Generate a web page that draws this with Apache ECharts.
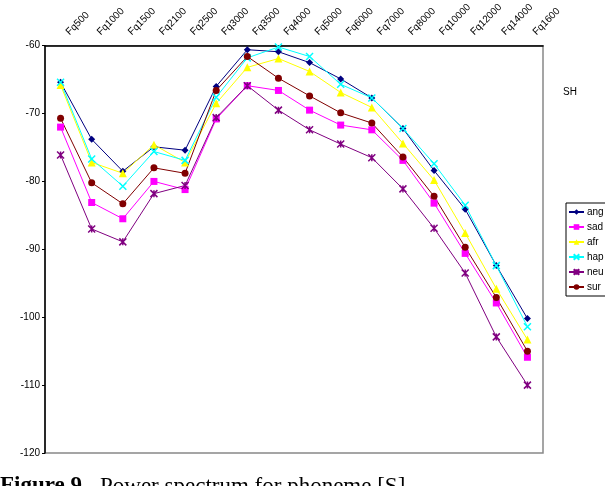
<!DOCTYPE html>
<html><head><meta charset="utf-8">
<script src="https://cdn.jsdelivr.net/npm/echarts@6/dist/echarts.min.js"></script>
<style>html,body{margin:0;padding:0;background:#fff}#c{width:605px;height:486px}</style>
</head><body><div id="c"></div>
<script>
const categories = ['Fq500','Fq1000','Fq1500','Fq2100','Fq2500','Fq3000','Fq3500','Fq4000','Fq5000','Fq6000','Fq7000','Fq8000','Fq10000','Fq12000','Fq14000','Fq1600'];
const ang = [-65.4, -73.8, -78.5, -74.9, -75.4, -66.0, -60.6, -60.9, -62.5, -64.9, -67.7, -72.2, -78.4, -84.1, -92.4, -100.2];
const sad = [-72.0, -83.1, -85.5, -80.0, -81.2, -70.8, -65.9, -66.6, -69.5, -71.7, -72.4, -76.9, -83.2, -90.6, -97.9, -105.9];
const afr = [-65.8, -77.2, -78.8, -74.6, -77.2, -68.5, -63.2, -61.9, -63.8, -66.9, -69.1, -74.4, -79.8, -87.6, -95.8, -103.3];
const hap = [-65.4, -76.7, -80.7, -75.6, -76.9, -67.6, -61.8, -60.2, -61.6, -65.7, -67.7, -72.2, -77.4, -83.5, -92.4, -101.4];
const neu = [-76.1, -87.0, -88.9, -81.8, -80.6, -70.6, -65.9, -69.5, -72.4, -74.5, -76.5, -81.1, -86.9, -93.5, -102.9, -110.0];
const sur = [-70.7, -80.2, -83.3, -78.0, -78.8, -66.6, -61.6, -64.8, -67.4, -69.9, -71.4, -76.4, -82.2, -89.7, -97.1, -105.0];
const seriesNames = ['ang','sad','afr','hap','neu','sur'];
const yTicks = {min: -120, max: -60, interval: 10};

const X_PATH = 'path://M0,0L10,10M10,0L0,10';
const AST_PATH = 'path://M0,0L10,10M10,0L0,10M5,0L5,10';
const styles = {
  ang: {color:'#000080', symbol:'diamond', size:7, bw:0},
  sad: {color:'#FF00FF', symbol:'rect', size:7, bw:0},
  afr: {color:'#FFFF00', symbol:'triangle', size:8, bw:0},
  hap: {color:'#00FFFF', symbol:X_PATH, size:7, bw:1.5},
  neu: {color:'#800080', symbol:AST_PATH, size:7, bw:1.5},
  sur: {color:'#800000', symbol:'circle', size:7, bw:0}
};
const dataMap = {ang, sad, afr, hap, neu, sur};

const chart = echarts.init(document.getElementById('c'), null, {renderer:'canvas'});
chart.setOption({
  animation: false,
  backgroundColor: '#fff',
  textStyle: {fontFamily: 'Liberation Sans, Arial, sans-serif'},
  grid: {left: 45, top: 45, right: 62, bottom: 33, show: true, borderColor: '#888', borderWidth: 1.5, backgroundColor: 'transparent'},
  legend: {
    orient: 'vertical', left: 566, top: 203,
    data: seriesNames,
    itemWidth: 15, itemHeight: 7, itemGap: 5,
    padding: [4, 4, 4, 2],
    borderColor: '#000', borderWidth: 1,
    textStyle: {fontSize: 10, color: '#000', padding: [0,0,0,-2]}
  },
  xAxis: {
    type: 'category', data: categories, position: 'top', boundaryGap: true,
    axisLine: {lineStyle: {color: '#000', width: 1.5}},
    axisTick: {inside: true, length: 4, lineStyle: {color: '#000'}},
    axisLabel: {rotate: -45, fontSize: 10, color: '#000', margin: 5, interval: 0, padding: [0, 0, 0, 10]}
  },
  yAxis: {
    type: 'value', min: yTicks.min, max: yTicks.max, interval: yTicks.interval,
    axisLine: {show: true, lineStyle: {color: '#000', width: 1.5}},
    axisTick: {show: true, length: 3, lineStyle: {color: '#000'}},
    splitLine: {show: false},
    axisLabel: {fontSize: 10, color: '#000', margin: 5}
  },
  graphic: [
    {type: 'text', left: 563, top: 87, style: {text: 'SH', fontSize: 10, fill: '#000', fontFamily: 'Liberation Sans, Arial'}},
    {type: 'text', x: 0, y: 475, style: {text: 'Figure 9.', font: 'bold 23px "Liberation Serif", "Times New Roman", serif', fill: '#000', textVerticalAlign: 'top'}},
    {type: 'text', x: 100, y: 475, style: {text: 'Power spectrum for phoneme [S].', font: '23px "Liberation Serif", "Times New Roman", serif', fill: '#000', textVerticalAlign: 'top'}}
  ],
  series: seriesNames.map(n => ({
    name: n, type: 'line', data: dataMap[n],
    symbol: styles[n].symbol, symbolSize: styles[n].size, showAllSymbol: true,
    lineStyle: {color: styles[n].color, width: 1},
    itemStyle: {color: styles[n].color, borderColor: styles[n].color, borderWidth: styles[n].bw}
  }))
});
</script></body></html>
